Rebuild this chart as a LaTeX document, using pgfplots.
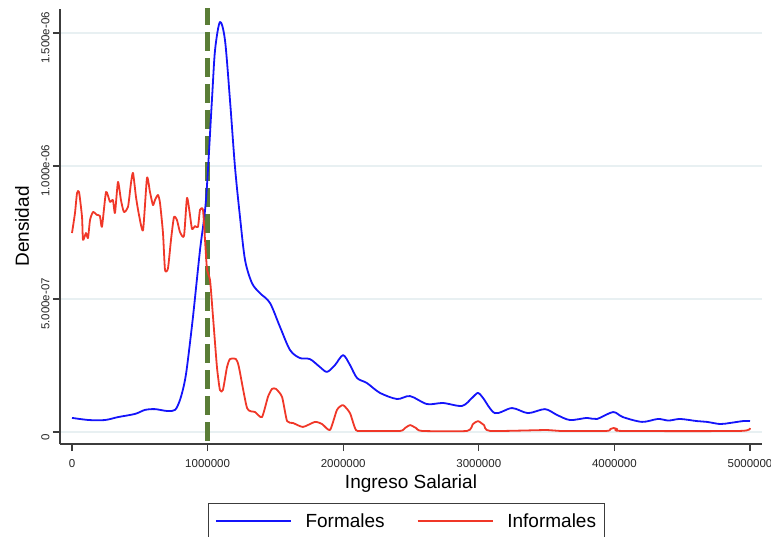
\documentclass[border=0pt]{standalone}
\usepackage{fontspec}
\setmainfont{Liberation Sans}
\usepackage{pgfplots}
\pgfplotsset{compat=1.18}
\definecolor{formblue}{RGB}{20,20,250}
\definecolor{infred}{RGB}{240,55,40}
\definecolor{smmlv}{RGB}{90,125,55}
\definecolor{gridc}{RGB}{232,240,242}
\definecolor{axc}{RGB}{60,60,60}
\begin{document}
\begin{tikzpicture}
\useasboundingbox (-60pt,-92pt) rectangle (711pt,444pt);
\begin{axis}[
  scale only axis, width=702pt, height=435pt,
  xmin=-88500, xmax=5088500, ymin=-4.51e-8, ymax=1.590e-6,
  axis lines=left, axis line style={-, axc, line width=1.2pt},
  tick align=outside, major tick length=7pt, tick style={axc, line width=1.2pt},
  xtick={0,1000000,2000000,3000000,4000000,5000000},
  xticklabels={0,1000000,2000000,3000000,4000000,5000000},
  ytick={0,5e-7,1e-6,1.5e-6},
  yticklabels={0,5.000e-07,1.000e-06,1.500e-06},
  scaled ticks=false,
  ymajorgrids, grid style={gridc, line width=1.4pt},
  ticklabel style={font=\fontsize{11.5}{12}\selectfont, text=black!85},
  xticklabel style={yshift=-5pt},
  yticklabel style={rotate=90, anchor=south, xshift=-5pt},
  xlabel={Ingreso Salarial}, ylabel={Densidad},
  label style={font=\fontsize{19}{21}\selectfont},
  xlabel style={at={(axis description cs:0.5,-0.09)}, anchor=center},
  ylabel style={at={(axis description cs:-0.054,0.5)}, anchor=center},
  legend columns=2,
  legend style={at={(axis description cs:0.4936,-0.1356)}, anchor=north,
    draw=axc, line width=1pt, font=\fontsize{19}{21}\selectfont,
    inner xsep=6pt, inner ysep=8pt,
    /tikz/every odd column/.append style={column sep=12pt},
    /tikz/every even column/.append style={column sep=30pt}},
  legend image code/.code={\draw[#1, line width=1.6pt] (0pt,0pt) -- (75pt,0pt);},
  every axis plot/.append style={line join=round},
]
% salario minimo
\addplot[smmlv, line width=4.5pt, dash pattern=on 19pt off 7pt, forget plot]
  coordinates {(1000000,1.60e-6) (1000000,-4.51e-8)};
% Formales
\addplot[formblue, line width=1.8pt, smooth, tension=0.5] coordinates {
(0,5.3e-8) (125000,4.5e-8) (243000,4.5e-8) (339000,5.6e-8) (465000,6.8e-8)
(538000,8.3e-8) (612000,8.6e-8) (701000,7.9e-8) (760000,8.3e-8) (796000,1.2e-7)
(826000,1.77e-7) (848000,2.44e-7) (892000,4.32e-7) (944000,6.84e-7) (988000,8.72e-7)
(1032000,1.248e-6) (1055000,1.436e-6) (1091000,1.541e-6) (1128000,1.474e-6)
(1165000,1.248e-6) (1202000,9.96e-7) (1239000,8.08e-7) (1276000,6.47e-7)
(1327000,5.6e-7) (1386000,5.22e-7) (1460000,4.85e-7) (1534000,3.95e-7)
(1608000,3.08e-7) (1681000,2.78e-7) (1755000,2.74e-7) (1829000,2.44e-7)
(1881000,2.26e-7) (1940000,2.52e-7) (1999000,2.89e-7) (2050000,2.52e-7)
(2102000,2.03e-7) (2175000,1.84e-7) (2271000,1.47e-7) (2397000,1.24e-7)
(2493000,1.35e-7) (2618000,1.05e-7) (2736000,1.09e-7) (2876000,9.8e-8)
(2950000,1.28e-7) (2994000,1.47e-7) (3031000,1.28e-7) (3119000,7.1e-8)
(3245000,9.0e-8) (3363000,7.1e-8) (3488000,8.6e-8) (3577000,6.4e-8)
(3673000,4.5e-8) (3798000,5.3e-8) (3872000,4.9e-8) (3990000,7.5e-8)
(4063000,5.6e-8) (4204000,3.8e-8) (4321000,4.9e-8) (4400000,4.3e-8)
(4484000,4.9e-8) (4609000,4.1e-8) (4683000,3.8e-8) (4779000,3.0e-8)
(4853000,3.4e-8) (4948000,4.1e-8) (5000000,4.1e-8)
};
\addlegendentry{Formales}
% Informales
\addplot[infred, line width=1.8pt, smooth, tension=0.35] coordinates {
(0,7.48e-7) (22000,8.23e-7) (37000,8.98e-7) (52000,9.02e-7) (74000,8.08e-7)
(81000,7.22e-7) (103000,7.48e-7) (118000,7.29e-7) (133000,7.97e-7) (155000,8.27e-7)
(184000,8.16e-7) (206000,8.12e-7) (221000,7.71e-7) (251000,9.02e-7) (280000,8.65e-7)
(302000,8.72e-7) (317000,8.23e-7) (339000,9.40e-7) (361000,8.72e-7) (383000,8.27e-7)
(413000,8.46e-7) (435000,9.36e-7) (450000,9.74e-7) (472000,8.83e-7) (494000,8.16e-7)
(524000,7.59e-7) (553000,9.55e-7) (575000,9.02e-7) (597000,8.53e-7) (612000,8.72e-7)
(634000,8.91e-7) (649000,8.61e-7) (671000,7.48e-7) (686000,6.09e-7) (708000,6.16e-7)
(730000,7.22e-7) (752000,8.08e-7) (774000,7.97e-7) (796000,7.52e-7) (826000,7.37e-7)
(848000,8.80e-7) (870000,8.16e-7) (885000,7.63e-7) (907000,7.74e-7) (929000,7.71e-7)
(944000,8.35e-7) (966000,8.35e-7) (981000,7.22e-7) (996000,6.09e-7) (1018000,5.71e-7)
(1040000,4.32e-7) (1069000,2.44e-7) (1091000,1.58e-7) (1113000,1.58e-7)
(1143000,2.44e-7) (1165000,2.74e-7) (1209000,2.74e-7) (1231000,2.44e-7)
(1291000,9.0e-8) (1350000,7.5e-8) (1401000,5.6e-8) (1445000,1.32e-7)
(1475000,1.62e-7) (1504000,1.62e-7) (1549000,1.32e-7) (1586000,4.1e-8)
(1630000,3.4e-8) (1703000,1.9e-8) (1792000,3.8e-8) (1844000,3.0e-8)
(1903000,7.5e-9) (1954000,8.3e-8) (1999000,1.01e-7) (2050000,7.1e-8)
(2094000,7.5e-9) (2160000,4e-9) (2419000,4e-9) (2456000,1.5e-8) (2493000,2.6e-8)
(2537000,1.5e-8) (2581000,4e-9) (2913000,4e-9) (2957000,3.0e-8) (2994000,4.1e-8)
(3038000,2.6e-8) (3083000,4e-9) (3503000,7.5e-9) (3599000,4e-9) (3940000,4e-9)
(3970000,1.1e-8) (3995000,1.5e-8) (4020000,1.1e-8) (4055000,4e-9)
(4926000,4e-9) (5000000,1.5e-8)
};
\addlegendentry{Informales}
\end{axis}
\end{tikzpicture}
\end{document}
